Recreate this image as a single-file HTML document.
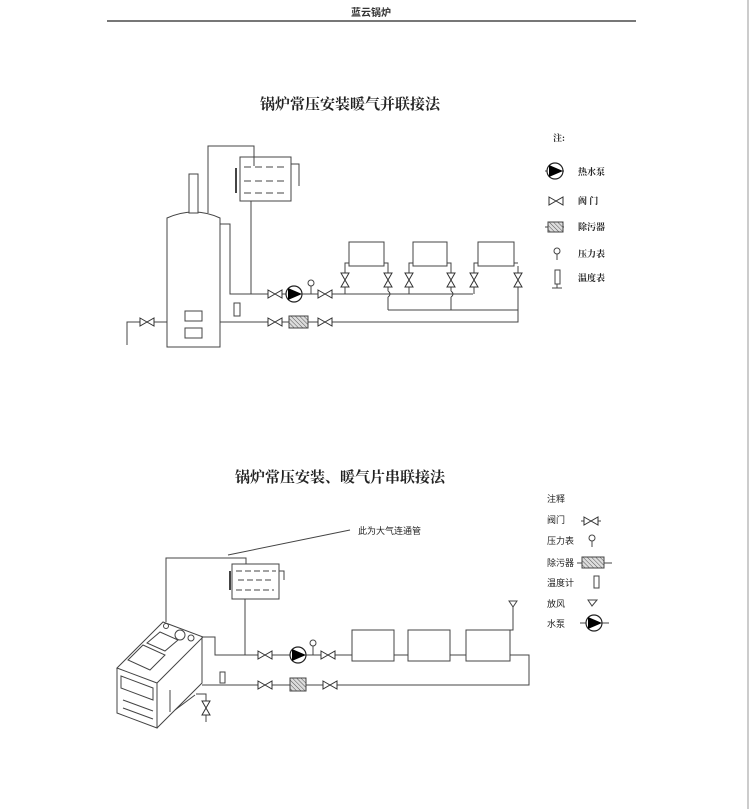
<!DOCTYPE html>
<html><head><meta charset="utf-8"><style>
html,body{margin:0;padding:0;background:#fff;}
svg{display:block;font-family:"Liberation Sans","Noto Sans CJK SC",sans-serif;}
.serif{font-family:"Liberation Serif","Noto Serif CJK SC",serif;}
</style></head><body>
<svg width="750" height="809" viewBox="0 0 750 809" xmlns="http://www.w3.org/2000/svg">
<defs>
<g id="valve"><path d="M-7,-4 L7,4 L7,-4 L-7,4 Z" fill="#fff" stroke="#333" stroke-width="1"/></g>
<g id="vvalve"><path d="M-4,-7 L4,7 L-4,7 L4,-7 Z" fill="#fff" stroke="#333" stroke-width="1"/></g>
<g id="pump"><circle r="8" fill="#fff" stroke="#222" stroke-width="1.2"/><path d="M-6,-6 L8,0 L-6,6 Z" fill="#000"/></g>
<pattern id="hatch" width="3" height="3" patternUnits="userSpaceOnUse" patternTransform="rotate(-45)"><rect width="3" height="3" fill="#ddd"/><line x1="0" y1="0" x2="0" y2="3" stroke="#555" stroke-width="1"/></pattern>
</defs>
<line x1="748" y1="0" x2="748" y2="809" stroke="#ccc" stroke-width="2"/>
<text x="371" y="16" font-size="10" font-weight="bold" text-anchor="middle" fill="#333">蓝云锅炉</text>
<line x1="107" y1="21" x2="636" y2="21" stroke="#777" stroke-width="2"/>

<text class="serif" x="350" y="109" font-size="15" font-weight="bold" text-anchor="middle" fill="#222">锅炉常压安装暖气并联接法</text>
<g fill="none" stroke="#444" stroke-width="1">
<path d="M167,347 L167,218 Q194,206 220,218 L220,347 Z" fill="#fff"/>
<rect x="189" y="174" width="9" height="39" fill="#fff"/>
<rect x="185" y="311" width="17" height="10"/><rect x="185" y="328" width="17" height="10"/>
<path d="M208,213 L208,146 L254,146 L254,166"/>
<rect x="240" y="157" width="51" height="44"/>
<path d="M244,167 H288 M244,181 H288 M244,193 H288" stroke-dasharray="7,4"/>
<path d="M236,168 V193" stroke-width="2"/>
<path d="M291,164 H299 V186"/>
<path d="M251,201 V294"/>
<path d="M220,224 H230 V294 H473"/>
<path d="M127,345 V322 H167"/>
<path d="M220,322 H518 V266"/>
<path d="M388,310 H518"/>
<rect x="349" y="242" width="35" height="24"/><rect x="413" y="242" width="34" height="24"/><rect x="478" y="242" width="36" height="24"/>
<path d="M349,263 H345 V294 M384,263 H388 V291 M388,297 V310"/>
<path d="M413,263 H409 V294 M447,263 H451 V291 M451,297 V310"/>
<path d="M478,263 H474 V294 M514,263 H518"/>
<path d="M388,291 Q392,294 388,297 M451,291 Q455,294 451,297"/>
<rect x="234" y="303" width="6" height="13" fill="#fff"/>
<path d="M311,294 V286"/><circle cx="311" cy="283" r="3"/>
<rect x="289" y="316" width="19" height="12" fill="url(#hatch)"/>
</g>
<use href="#valve" x="147" y="322"/><use href="#valve" x="275" y="294"/><use href="#valve" x="325" y="294"/>
<use href="#valve" x="275" y="322"/><use href="#valve" x="325" y="322"/>
<use href="#pump" x="294" y="294"/>
<use href="#vvalve" x="345" y="280"/><use href="#vvalve" x="388" y="280"/><use href="#vvalve" x="409" y="280"/><use href="#vvalve" x="451" y="280"/><use href="#vvalve" x="474" y="280"/><use href="#vvalve" x="518" y="280"/>

<g class="serif" font-size="9" font-weight="bold" fill="#222">
<text x="553" y="141">注:</text>
<text x="578" y="175">热水泵</text>
<text x="578" y="204">阀    门</text>
<text x="578" y="230">除污器</text>
<text x="578" y="257">压力表</text>
<text x="578" y="281">温度表</text>
</g>
<g fill="none" stroke="#444">
<path d="M545,171 H564"/><path d="M545,227 H564"/><rect x="548" y="222" width="15" height="10" fill="url(#hatch)"/>
<circle cx="557" cy="251" r="3"/><path d="M557,254 V260"/>
<rect x="555" y="270" width="5" height="14"/><path d="M552,288 H562 M557,284 V288"/>
</g>
<use href="#pump" x="555" y="171"/><use href="#valve" x="556" y="201"/>

<text class="serif" x="340" y="482" font-size="15" font-weight="bold" text-anchor="middle" fill="#222">锅炉常压安装、暖气片串联接法</text>
<text x="358" y="534" font-size="9" fill="#222">此为大气连通管</text>
<g fill="none" stroke="#444" stroke-width="1">
<path d="M228,555 L350,530"/>
<path d="M117,668 L163,622 L203,637 L157,683 Z M117,668 V713 L157,728 V683 M157,728 L202,683 V637" fill="#fff"/>
<circle cx="166" cy="626" r="2.5"/><circle cx="180" cy="635" r="5"/><circle cx="191" cy="638" r="3"/>
<path d="M147,643 L160,632 L178,640 L165,651 Z M128,660 L143,645 L165,655 L150,670 Z"/>
<path d="M121,676 L153,688 L153,700 L121,688 Z"/>
<path d="M123,700 L153,711 M123,708 L153,719"/>
<path d="M170,690 V712 M175,710 L195,695"/>
<path d="M166,622 V558 H246 V570"/>
<rect x="232" y="564" width="47" height="35" fill="#fff"/>
<path d="M236,571 H276 M238,580 H272 M236,590 H274" stroke-dasharray="6,3"/>
<path d="M230,571 V590" stroke-width="2"/>
<path d="M279,571 H284 V580"/>
<path d="M245,599 V655"/>
<path d="M203,637 H215 V655 H352"/>
<path d="M394,655 H408 M450,655 H466 M510,655 H529 V685 H202"/>
<path d="M510,630 H513 V607"/><path d="M509,601 H517 L513,607 Z"/>
<rect x="352" y="630" width="42" height="31"/><rect x="408" y="630" width="42" height="31"/><rect x="466" y="630" width="44" height="31"/>
<path d="M313,655 V646"/><circle cx="313" cy="643" r="3"/>
<rect x="220" y="672" width="5" height="11" fill="#fff"/>
<rect x="290" y="678" width="16" height="13" fill="url(#hatch)"/>
<path d="M196,694 H206 V722"/>
</g>
<use href="#valve" x="265" y="655"/><use href="#valve" x="328" y="655"/><use href="#pump" x="298" y="655"/>
<use href="#valve" x="265" y="685"/><use href="#valve" x="330" y="685"/><use href="#vvalve" x="206" y="708"/>

<g font-size="9" fill="#222">
<text x="547" y="502">注释</text>
<text x="547" y="523">阀门</text>
<text x="547" y="544">压力表</text>
<text x="547" y="566">除污器</text>
<text x="547" y="586">温度计</text>
<text x="547" y="607">放风</text>
<text x="547" y="627">水泵</text>
</g>
<g fill="none" stroke="#444">
<path d="M581,521 H601"/>
<circle cx="592" cy="538" r="3"/><path d="M592,541 V547"/>
<path d="M577,563 H612"/><rect x="582" y="557" width="22" height="11" fill="url(#hatch)"/>
<rect x="594" y="576" width="5" height="12"/>
<path d="M588,600 H597 L592,606 Z"/>
<path d="M580,623 H609"/>
</g>
<use href="#valve" x="591" y="521"/><use href="#pump" x="594" y="623"/>
</svg>
</body></html>
